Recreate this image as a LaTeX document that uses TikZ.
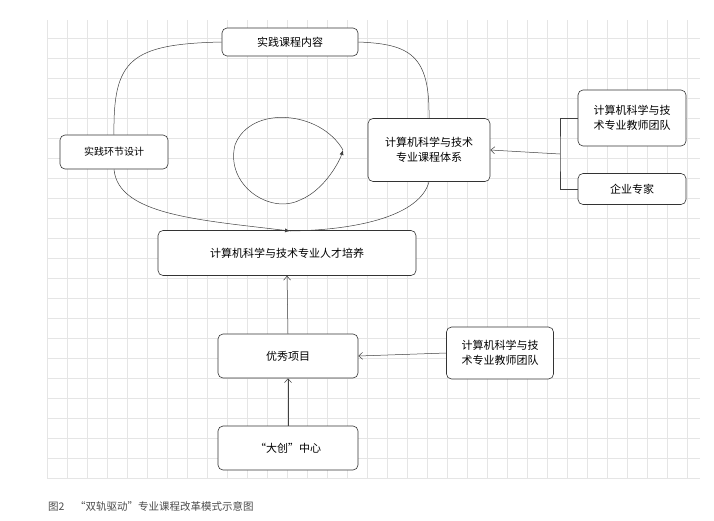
\documentclass[tikz,border=0pt]{standalone}
\usepackage{fontspec}
\setmainfont{Noto Sans CJK SC}
\usetikzlibrary{arrows.meta}
\begin{document}
\begin{tikzpicture}[x=1pt,y=-1pt,
  bx/.style={draw=black!80,rounded corners=5pt,fill=white,line width=0.6pt,font=\fontsize{11}{15}\selectfont,align=center,inner sep=0pt},
  ln/.style={draw=black!75,line width=0.5pt},
  oa/.style={ln,-{Straight Barb[length=4pt,width=7pt]}},
  fa/.style={ln,-{Latex[length=5pt,width=4pt]}}]
\useasboundingbox (0,0) rectangle (714,520);
\fill[white] (0,0) rectangle (714,520);
\foreach \gx in {47,67,...,700} \draw[black!10,line width=0.4pt] (\gx,20) -- (\gx,478);
\foreach \gy in {38,58,...,478} \draw[black!10,line width=0.4pt] (47,\gy) -- (700,\gy);
\node[bx,minimum width=136,minimum height=28] (kc) at (290,42) {实践课程内容};
\node[bx,minimum width=108,minimum height=34,font=\fontsize{10}{13}\selectfont] (hj) at (114,152) {实践环节设计};
\node[bx,minimum width=122,minimum height=63] (tx) at (429,150) {计算机科学与技术\\专业课程体系};
\node[bx,minimum width=108,minimum height=56] (t1) at (632,118) {计算机科学与技\\术专业教师团队};
\node[bx,minimum width=108,minimum height=31] (qy) at (632,189) {企业专家};
\node[bx,minimum width=258,minimum height=45] (pe) at (287,253) {计算机科学与技术专业人才培养};
\node[bx,minimum width=140,minimum height=44] (yx) at (288,356) {优秀项目};
\node[bx,minimum width=107,minimum height=52] (t2) at (500,353) {计算机科学与技\\术专业教师团队};
\node[bx,minimum width=140,minimum height=44] (dc) at (288,448) {“大创”中心};
\coordinate (top) at (290,231);
\draw[ln] (kc.west) .. controls (130,44) and (113,60) .. (hj.north);
\draw[fa] (hj.south) .. controls (118,215) and (200,220) .. (top);
\draw[ln] (kc.east) .. controls (410,44) and (430,55) .. (tx.north);
\draw[ln] (tx.south) .. controls (420,215) and (360,230) .. (top);
\coordinate (tip) at (343,150);
\draw[fa] (tip) .. controls (320,110) and (250,105) .. (235,145) .. controls (225,185) and (270,215) .. (300,200) .. controls (325,190) and (340,160) .. (tip);
\coordinate (j) at (560,154);
\draw[ln] (t1.west) -| (j) |- (qy.west);
\draw[oa] (j) -- (tx.east);
\draw[oa] (yx.north) -- (pe.south);
\draw[oa] (dc.north) -- (yx.south);
\draw[oa] (t2.west) -- (yx.east);
\node[anchor=west,text=black!70,font=\fontsize{10.5}{12}\selectfont,inner sep=0] (cap) at (48,506) {图2\quad “双轨驱动”专业课程改革模式示意图};
\end{tikzpicture}
\end{document}
